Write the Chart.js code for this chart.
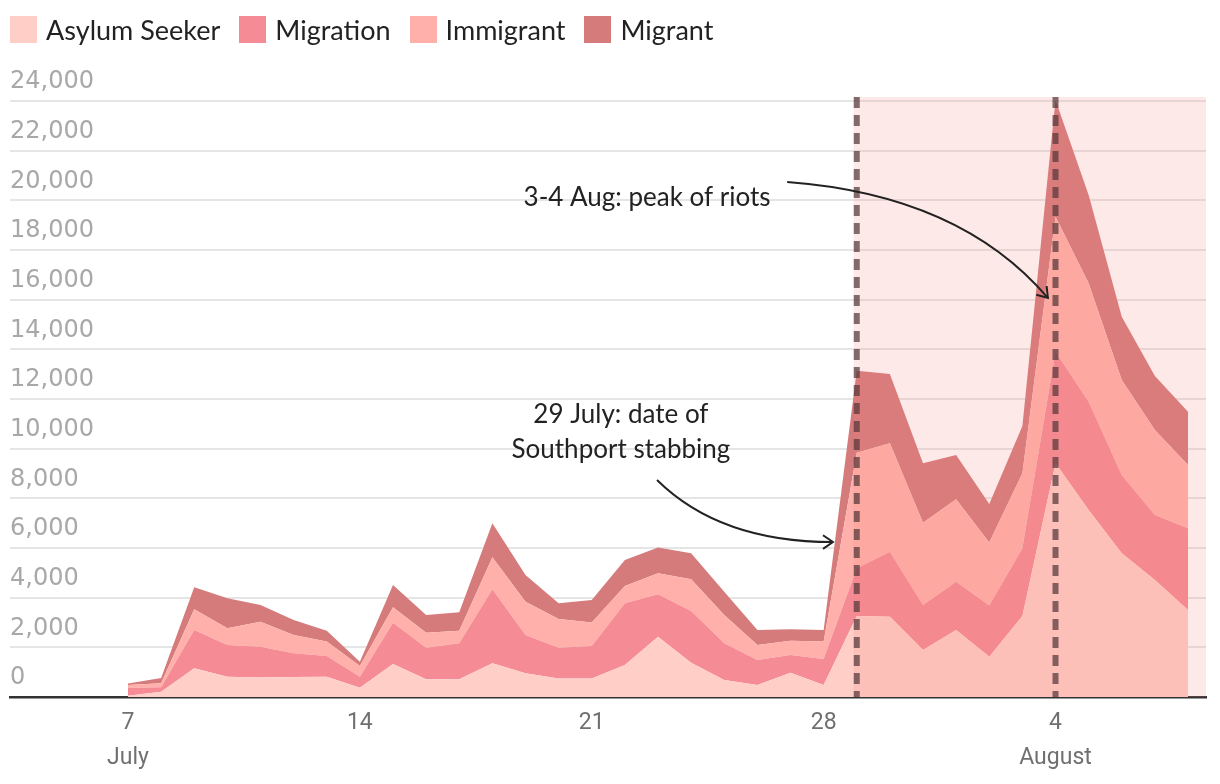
<!DOCTYPE html>
<html><head><meta charset="utf-8">
<script src="https://cdn.jsdelivr.net/npm/chart.js@4"></script>
<style>
html,body{margin:0;padding:0;background:#fff;}
#wrap{position:relative;width:1220px;height:784px;overflow:hidden;}
#legend{position:absolute;left:10px;top:15px;display:flex;font-family:Lato,'Open Sans',sans-serif;font-size:27px;color:#222;z-index:2;}
.item{display:flex;align-items:center;margin-right:19px;height:28px;}
.sw{width:27px;height:27px;margin-right:9px;}
canvas{position:absolute;left:0;top:0;}
</style></head>
<body><div id="wrap"><div id="legend"></div><canvas id="c" width="1220" height="784"></canvas></div>
<script>
const dates = ['7 Jul','8 Jul','9 Jul','10 Jul','11 Jul','12 Jul','13 Jul','14 Jul','15 Jul','16 Jul','17 Jul','18 Jul','19 Jul','20 Jul','21 Jul','22 Jul','23 Jul','24 Jul','25 Jul','26 Jul','27 Jul','28 Jul','29 Jul','30 Jul','31 Jul','1 Aug','2 Aug','3 Aug','4 Aug','5 Aug','6 Aug','7 Aug','8 Aug'];
const asylumSeeker = [50,215,1155,820,790,805,820,375,1330,710,710,1355,955,750,750,1290,2430,1380,685,485,980,485,3260,3235,1895,2700,1625,3260,9410,7530,5785,4710,3505];
const migration    = [320,175,1545,1275,1235,955,830,445,1660,1275,1450,2980,1540,1235,1305,2485,1705,2085,1475,1005,710,1045,1920,2615,1810,1945,2055,2730,4495,4360,3155,2620,3290];
const immigrant    = [110,160,830,670,1010,740,580,430,620,605,510,1290,1345,1155,950,695,845,1275,1140,605,580,700,4660,4365,3315,3315,2540,3020,5435,4770,3825,3425,2550];
const migrant      = [60,215,890,1210,670,600,440,170,900,710,740,1370,1075,635,900,1045,1045,1045,940,605,455,470,3300,2795,2390,1785,1555,1905,4700,3555,2550,2175,2145];

const seriesNames  = ['Asylum Seeker','Migration','Immigrant','Migrant'];
const seriesValues = [asylumSeeker, migration, immigrant, migrant];
const seriesColors = ['#ffcec7','#f58b95','#ffb0aa','#d57b7c'];

const tickDays   = [0,7,14,21,28];
const tickLabels = [['7','July'],['14'],['21'],['28'],['4','August']];
const yMax = 24000, yStep = 2000;

const highlightStartDay = dates.indexOf('29 Jul');
const markerDays = [dates.indexOf('29 Jul'), dates.indexOf('4 Aug')];

// annotations in data space: [dayIndex, value]
const noteRiots = {lines:['3-4 Aug: peak of riots'], at:[15.67, 20100]};
const noteStab  = {lines:['29 July: date of','Southport stabbing'], at:[14.88, 11360]};
const arrowRiots = {from:[19.9, 20740], ctrl:[25.12, 20220], to:[27.77, 16070]};
const arrowStab  = {from:[15.97, 8740], ctrl:[17.87, 6240], to:[21.28, 6240]};

// legend
const leg = document.getElementById('legend');
seriesNames.forEach((n,i)=>{
  const it=document.createElement('div'); it.className='item';
  const sw=document.createElement('div'); sw.className='sw'; sw.style.background=seriesColors[i];
  const tx=document.createElement('span'); tx.textContent=n;
  it.appendChild(sw); it.appendChild(tx); leg.appendChild(it);
});

const datasets = seriesNames.map((n,i)=>({
  label:n,
  data: seriesValues[i].map((v,j)=>({x:j,y:v})),
  backgroundColor: seriesColors[i],
  borderWidth:0, pointRadius:0, tension:0,
  fill: i===0 ? 'origin' : '-1'
}));

function drawArrow(ctx, xs, ys, a){
  const p0=[xs.getPixelForValue(a.from[0]), ys.getPixelForValue(a.from[1])];
  const p1=[xs.getPixelForValue(a.ctrl[0]), ys.getPixelForValue(a.ctrl[1])];
  const p2=[xs.getPixelForValue(a.to[0]), ys.getPixelForValue(a.to[1])];
  ctx.beginPath(); ctx.moveTo(p0[0],p0[1]); ctx.quadraticCurveTo(p1[0],p1[1],p2[0],p2[1]); ctx.stroke();
  const ang=Math.atan2(p2[1]-p1[1], p2[0]-p1[0]);
  const L=12, s=0.6;
  ctx.beginPath();
  ctx.moveTo(p2[0]-L*Math.cos(ang-s), p2[1]-L*Math.sin(ang-s));
  ctx.lineTo(p2[0],p2[1]);
  ctx.lineTo(p2[0]-L*Math.cos(ang+s), p2[1]-L*Math.sin(ang+s));
  ctx.stroke();
}

const overlayPlugin = {
  id:'overlay',
  afterDatasetsDraw(chart){
    const {ctx, chartArea, scales:{x:xs, y:ys}} = chart;
    ctx.save();
    const x0 = xs.getPixelForValue(highlightStartDay) - 3;
    ctx.fillStyle='rgba(244,133,122,0.18)';
    ctx.fillRect(x0, chartArea.top-4, chartArea.right-x0, ys.getPixelForValue(0)-(chartArea.top-4));
    ctx.restore();
  },
  afterDraw(chart){
    const {ctx, chartArea, scales:{x:xs, y:ys}} = chart;
    ctx.save();
    ctx.strokeStyle='rgba(85,55,58,0.72)'; ctx.lineWidth=6; ctx.setLineDash([11,7]);
    markerDays.forEach(d=>{
      const x=xs.getPixelForValue(d);
      ctx.beginPath(); ctx.moveTo(x, chartArea.top-4); ctx.lineTo(x, ys.getPixelForValue(0)); ctx.stroke();
    });
    ctx.setLineDash([]);
    ctx.fillStyle='#222'; ctx.font='26px Lato, "Open Sans", sans-serif';
    ctx.textAlign='center'; ctx.textBaseline='middle';
    [noteRiots, noteStab].forEach(n=>{
      const x=xs.getPixelForValue(n.at[0]); const y=ys.getPixelForValue(n.at[1]);
      n.lines.forEach((t,k)=>ctx.fillText(t, x, y+k*35));
    });
    ctx.strokeStyle='#222'; ctx.lineWidth=2;
    drawArrow(ctx, xs, ys, arrowRiots);
    drawArrow(ctx, xs, ys, arrowStab);
    ctx.restore();
  }
};

new Chart(document.getElementById('c'), {
  type:'line',
  data:{datasets},
  options:{
    responsive:false, animation:false,
    layout:{padding:{top:101,left:10,right:14,bottom:0}},
    plugins:{legend:{display:false}, tooltip:{enabled:false}},
    scales:{
      x:{type:'linear', min:-3.562, max:32.543, z:2,
        afterBuildTicks:(s)=>{ s.ticks = tickDays.map(v=>({value:v})); },
        ticks:{callback:(v)=>tickLabels[tickDays.indexOf(v)], font:{family:'Roboto', size:23, lineHeight:1.5}, color:'#707070', padding:9, maxRotation:0, autoSkip:false},
        grid:{display:false, drawTicks:false},
        border:{display:true, color:'#333', width:2.5}
      },
      y:{stacked:true, min:0, max:yMax, z:1,
        ticks:{stepSize:yStep, mirror:true, padding:0, labelOffset:-19, font:{family:'DejaVu Sans', size:24}, color:'#a8a8a8', callback:(v)=>v.toLocaleString('en-US')},
        grid:{color:'rgba(0,0,0,0.1)', lineWidth:2, drawTicks:false},
        border:{display:false}
      }
    }
  },
  plugins:[overlayPlugin]
});
</script></body></html>
